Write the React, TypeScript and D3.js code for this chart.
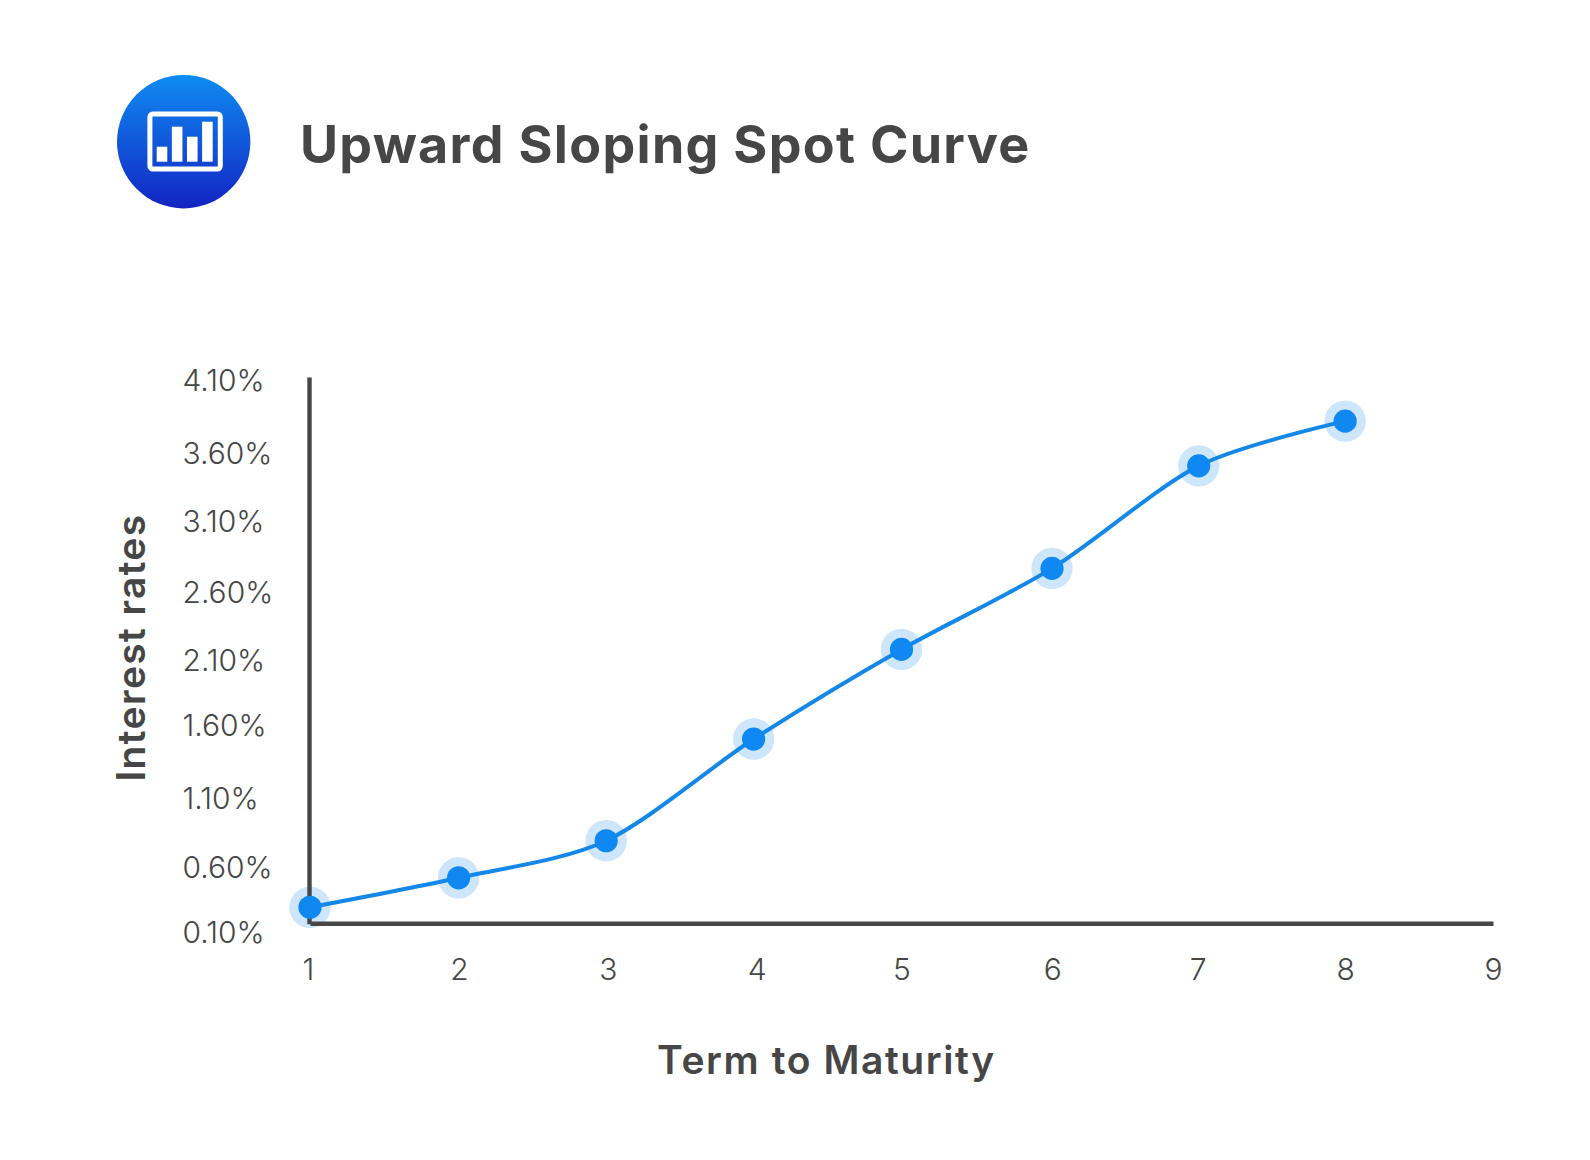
import React, { useEffect, useRef } from 'react';
import * as d3 from 'd3';

// terms are read off the picture: the marks are not exactly on the ticks
const terms = [1, 2.005, 3.003, 4, 5, 6.018, 7.01, 8];
const spotRates = [0.22, 0.436, 0.707, 1.451, 2.107, 2.7, 3.45, 3.777];
const xTicks = [1, 2, 3, 4, 5, 6, 7, 8, 9];
const yTicks = [0.1, 0.6, 1.1, 1.6, 2.1, 2.6, 3.1, 3.6, 4.1];
const iconBars = [3, 7, 5, 8];

const title = 'Upward Sloping Spot Curve';
const xTitle = 'Term to Maturity';
const yTitle = 'Interest rates';

const width = 1590;
const height = 1160;
const textColor = '#464646';
const fontFamily = 'Inter, "Noto Sans", sans-serif';

const App: React.FC = () => {
  const svgRef = useRef<SVGSVGElement | null>(null);

  useEffect(() => {
    if (!svgRef.current) return;

    const svg = d3.select(svgRef.current);
    svg.selectAll('*').remove();

    const x = d3.scaleLinear().domain([1, 9]).range([310, 1493]);
    const y = d3.scaleLinear().domain([0.1, 4.1]).range([923.7, 377]);
    // the tick labels are hand placed in the original, not evenly spaced
    const yLabelNudge = [8, 11.3, 10.7, 5.6, 9, 9.7, 7, 7, 2.3];
    const xLabelNudge = [-2, 1, 2, 3, 0, 3, 0.5, 0, 0];

    // icon
    const grad = svg.append('defs').append('linearGradient')
      .attr('id', 'iconFill')
      .attr('x1', 0).attr('y1', 0).attr('x2', 0).attr('y2', 1);
    grad.append('stop').attr('offset', 0).attr('stop-color', '#0f8cf2');
    grad.append('stop').attr('offset', 1).attr('stop-color', '#1224c2');

    const icon = svg.append('g').attr('transform', 'translate(183.7,141.7)');
    icon.append('circle').attr('r', 66.7).attr('fill', 'url(#iconFill)');
    icon.append('rect')
      .attr('x', -33.8).attr('y', -27.7).attr('width', 70.4).attr('height', 55)
      .attr('rx', 3).attr('fill', 'none').attr('stroke', '#fff').attr('stroke-width', 5);

    const barX = d3.scaleBand<number>().domain(d3.range(iconBars.length)).range([-27, 29]).paddingInner(0.3);
    const barY = d3.scaleLinear().domain([0, 8]).range([20, -20]);
    icon.selectAll('.icon-bar')
      .data(iconBars)
      .join('rect')
      .attr('class', 'icon-bar')
      .attr('x', (_, i) => barX(i) as number)
      .attr('y', d => barY(d))
      .attr('width', barX.bandwidth())
      .attr('height', d => barY(0) - barY(d))
      .attr('fill', '#fff');

    svg.append('text')
      .attr('x', 300).attr('y', 163)
      .attr('font-size', 52).attr('font-weight', 700)
      .attr('letter-spacing', 1.3)
      .attr('font-family', fontFamily).attr('fill', textColor)
      .text(title);

    const points = terms.map((t, i) => ({ term: t, rate: spotRates[i] }));

    svg.selectAll('.halo')
      .data(points)
      .join('circle')
      .attr('class', 'halo')
      .attr('cx', d => x(d.term))
      .attr('cy', d => y(d.rate))
      .attr('r', 20.7)
      .attr('fill', '#cde6fb');

    // axes
    const xAxis = svg.append('g')
      .attr('transform', `translate(0,${y(0.1) - 0.5})`)
      .call(d3.axisBottom(x).tickValues(xTicks).tickSize(0).tickPadding(36).tickFormat(d3.format('d') as any));
    xAxis.select('.domain').attr('stroke', textColor).attr('stroke-width', 4.4);
    xAxis.selectAll('text')
      .attr('transform', (_, i) => `translate(${xLabelNudge[i]},0)`)
      .attr('font-size', 30).attr('font-weight', 300)
      .attr('font-family', fontFamily).attr('fill', textColor);

    const yAxis = svg.append('g')
      .attr('transform', `translate(${x(1) - 1},0)`)
      .call(d3.axisLeft(y).tickValues(yTicks).tickSize(0).tickFormat(d => `${(+d).toFixed(2)}%`));
    yAxis.select('.domain').attr('stroke', textColor).attr('stroke-width', 4.4);
    yAxis.selectAll<SVGTextElement, number>('text')
      .attr('x', 183.5 - x(1))
      .attr('dy', '0.36em')
      .attr('text-anchor', 'start')
      .attr('transform', (_, i) => `translate(0,${yLabelNudge[i]})`)
      .attr('font-size', 30).attr('font-weight', 300)
      .attr('font-family', fontFamily).attr('fill', textColor);

    const line = d3.line<{ term: number; rate: number }>()
      .x(d => x(d.term))
      .y(d => y(d.rate))
      .curve(d3.curveCardinal.tension(0.15));

    svg.append('path')
      .datum(points)
      .attr('fill', 'none')
      .attr('stroke', '#1488e8')
      .attr('stroke-width', 4)
      .attr('d', line);

    svg.selectAll('.dot')
      .data(points)
      .join('circle')
      .attr('class', 'dot')
      .attr('cx', d => x(d.term))
      .attr('cy', d => y(d.rate))
      .attr('r', 11.6)
      .attr('fill', '#0f88f2');

    svg.append('text')
      .attr('x', 826.5).attr('y', 1074)
      .attr('text-anchor', 'middle')
      .attr('font-size', 39).attr('font-weight', 600)
      .attr('letter-spacing', 1.6)
      .attr('font-family', fontFamily).attr('fill', textColor)
      .text(xTitle);

    svg.append('text')
      .attr('transform', 'translate(145,647.5) rotate(-90)')
      .attr('text-anchor', 'middle')
      .attr('font-size', 39).attr('font-weight', 600)
      .attr('letter-spacing', 1.35)
      .attr('font-family', fontFamily).attr('fill', textColor)
      .text(yTitle);
  }, []);

  return (
    <svg
      ref={svgRef}
      width={width}
      height={height}
      viewBox={`0 0 ${width} ${height}`}
      style={{ position: 'absolute', left: 0, top: 0, background: '#fff' }}
    />
  );
};

export default App;
